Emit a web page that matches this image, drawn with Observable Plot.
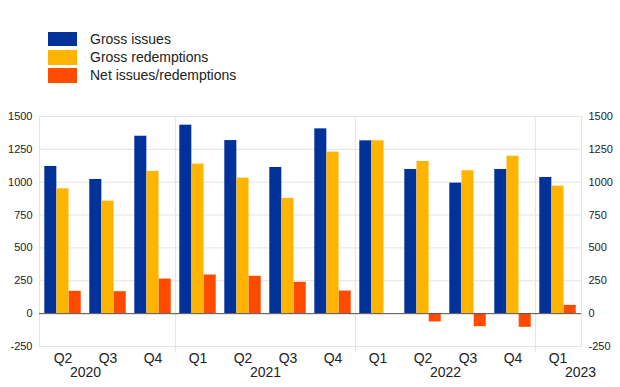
<!DOCTYPE html>
<html>
<head>
<meta charset="utf-8">
<script src="https://cdn.jsdelivr.net/npm/d3@7"></script>
<script src="https://cdn.jsdelivr.net/npm/@observablehq/plot@0.6"></script>
<style>
  html, body { margin: 0; padding: 0; background: #fff; }
  body { width: 620px; height: 387px; overflow: hidden; font-family: "Liberation Sans", Arial, sans-serif; }
  #legend { position: relative; height: 100px; }
  .item { position: absolute; left: 48px; height: 15px; }
  .sw { position: absolute; left: 0; top: 0; width: 29px; height: 14.5px; }
  .lab { position: absolute; left: 42px; top: -1px; font-size: 14px; line-height: 16px; color: #222; white-space: nowrap; }
  svg { display: block; }
</style>
</head>
<body>
<div id="legend"></div>
<div id="chart"></div>
<script>
// ---- data ----
const quarters = ["Q2","Q3","Q4","Q1","Q2","Q3","Q4","Q1","Q2","Q3","Q4","Q1"];
const years    = ["2020","2020","2020","2021","2021","2021","2021","2022","2022","2022","2022","2023"];
const grossIssues      = [1120, 1021, 1350, 1434, 1317, 1112, 1406, 1315, 1097,  993, 1097, 1036];
const grossRedemptions = [ 950,  856, 1082, 1138, 1031,  877, 1229, 1315, 1158, 1087, 1198,  970];
const netIssues        = [ 170,  167,  263,  294,  284,  238,  172,    0,  -63,  -99, -104,   63];
const seriesNames  = ["Gross issues", "Gross redemptions", "Net issues/redemptions"];
const seriesColors = ["#003299", "#ffb400", "#ff4b00"];
const yTicks = [-250, 0, 250, 500, 750, 1000, 1250, 1500];
const yearLabels = [
  {year: "2020", at: "2020 Q2"},
  {year: "2021", at: "2021 Q2"},
  {year: "2022", at: "2022 Q2"},
  {year: "2023", at: "2023 Q1"}
];
const yearStarts = ["2021 Q1", "2022 Q1", "2023 Q1"];

// ---- table ----
const keys = quarters.map((q, i) => years[i] + " " + q);
const table = keys.map((k, i) => ({key: k, gross: grossIssues[i], red: grossRedemptions[i], net: netIssues[i]}));

// ---- legend ----
const legend = document.getElementById("legend");
seriesNames.forEach((name, i) => {
  const it = document.createElement("div");
  it.className = "item";
  it.style.top = (31.7 + i * 18.3) + "px";
  const sw = document.createElement("div");
  sw.className = "sw"; sw.style.background = seriesColors[i];
  const lab = document.createElement("div");
  lab.className = "lab"; lab.textContent = name;
  it.appendChild(sw); it.appendChild(lab);
  legend.appendChild(it);
});

// ---- chart ----
const W = 620, H = 287, mL = 39, mR = 39;
const step = (W - mL - mR) / keys.length;
const barW = 12.2, pad = 4.3;
const inset = j => ({insetLeft: pad + j * barW, insetRight: step - pad - (j + 1) * barW});
const fmt = d => String(d);

const chart = Plot.plot({
  width: W, height: H,
  marginLeft: mL, marginRight: mR, marginTop: 16, marginBottom: 41,
  style: {fontFamily: "Liberation Sans, Arial, sans-serif", color: "#222", background: "#fff"},
  x: {type: "band", domain: keys, padding: 0, label: null},
  y: {domain: [-250, 1500], label: null},
  marks: [
    Plot.ruleY(yTicks, {stroke: "#e4e4e4", strokeWidth: 1}),
    Plot.frame({stroke: "#e4e4e4"}),
    Plot.ruleX(yearStarts, {x: d => d, dx: -step / 2, stroke: "#e4e4e4", insetBottom: -6}),
    Plot.barY(table, {x: "key", y: "gross", fill: seriesColors[0], ...inset(0)}),
    Plot.barY(table, {x: "key", y: "red", fill: seriesColors[1], ...inset(1)}),
    Plot.barY(table, {x: "key", y: "net", fill: seriesColors[2], ...inset(2)}),
    Plot.ruleY([0], {stroke: "#555", strokeWidth: 1}),
    Plot.axisY({anchor: "left", ticks: yTicks, tickFormat: fmt, tickSize: 0, tickPadding: 7, fontSize: 11, label: null}),
    Plot.axisY({anchor: "right", ticks: yTicks, tickFormat: fmt, tickSize: 0, tickPadding: 7, fontSize: 11, label: null}),
    Plot.axisX({tickSize: 0, tickPadding: 7, fontSize: 14, tickFormat: d => d.split(" ")[1], label: null}),
    Plot.text(yearLabels, {x: "at", text: "year", frameAnchor: "bottom", lineAnchor: "bottom", dy: 30, dx: step / 2, fontSize: 14, fill: "#222"})
  ]
});
document.getElementById("chart").appendChild(chart);
</script>
</body>
</html>
